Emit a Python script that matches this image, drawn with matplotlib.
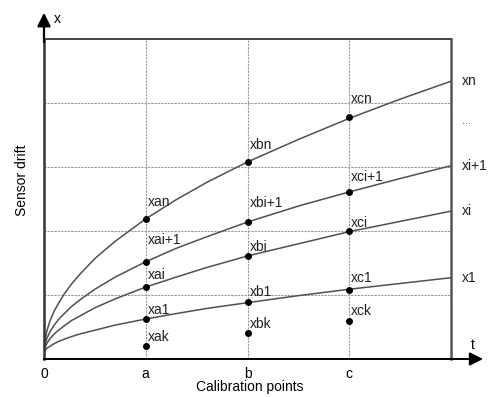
import matplotlib
matplotlib.use("Agg")
import matplotlib.pyplot as plt

# ---- data ----
t_curve = [0, 0.01, 0.03, 0.06, 0.1, 0.15, 0.2, 0.27, 0.35, 0.5, 0.7, 1, 1.3, 1.6, 2, 2.5, 3, 3.5, 4]
curve_x1 = [0.1, 0.14, 0.17, 0.20, 0.24, 0.28, 0.31, 0.35, 0.39, 0.45, 0.53, 0.625, 0.71, 0.79, 0.88, 0.99, 1.09, 1.18, 1.27]
curve_xi = [0.1, 0.18, 0.25, 0.32, 0.39, 0.46, 0.52, 0.60, 0.67, 0.80, 0.94, 1.125, 1.28, 1.43, 1.61, 1.80, 1.99, 2.15, 2.31]
curve_xi1 = [0.1, 0.23, 0.33, 0.43, 0.53, 0.63, 0.71, 0.82, 0.92, 1.09, 1.28, 1.52, 1.73, 1.91, 2.14, 2.39, 2.61, 2.82, 3.02]
curve_xn = [0.1, 0.30, 0.45, 0.60, 0.75, 0.89, 1.02, 1.17, 1.32, 1.57, 1.84, 2.19, 2.49, 2.76, 3.08, 3.43, 3.76, 4.06, 4.34]

t_cal = [1, 2, 3]
cal_names = ["a", "b", "c"]
pts_xk = [0.2, 0.41, 0.59]
pts_x1 = [0.625, 0.89, 1.08]
pts_xi = [1.125, 1.61, 2.0]
pts_xi1 = [1.52, 2.14, 2.61]
pts_xn = [2.19, 3.08, 3.78]
pt_suffix = ["k", "1", "i", "i+1", "n"]
curve_names = ["x1", "xi", "xi+1", "xn"]

xtick_pos = [0, 1, 2, 3]
xtick_labels = ["0", "a", "b", "c"]
hgrid = [1, 2, 3, 4]

plt.rcParams['font.family'] = ['Liberation Sans', 'DejaVu Sans']
FS = 10

fig = plt.figure(figsize=(4.88, 3.97), dpi=100)
ax = fig.add_axes([44/488, 1-359/397, 407/488, 320/397])
ax.set_xlim(0, 4)
ax.set_ylim(0, 5)

# grid
for g in t_cal:
    ax.axvline(g, color='#999999', lw=0.8, ls=(0, (2, 1)), zorder=1)
for g in hgrid:
    ax.axhline(g, color='#999999', lw=0.8, ls=(0, (2, 1)), zorder=1)

# curves
curves = [curve_x1, curve_xi, curve_xi1, curve_xn]
for c in curves:
    ax.plot(t_curve, c, color='#505050', lw=1.1, zorder=2, solid_joinstyle='round')

# points
pts = [pts_xk, pts_x1, pts_xi, pts_xi1, pts_xn]
offsets = [[9, 9, 12, 22, 17], [9, 10, 9, 19, 17], [10, 12, 8, 15, 18]]
for si, s in enumerate(pts):
    ax.scatter(t_cal, s, s=16, color='black', zorder=4, clip_on=False)
    for ci, (tc, v) in enumerate(zip(t_cal, s)):
        ax.annotate("x" + cal_names[ci] + pt_suffix[si], (tc, v),
                    xytext=(2, offsets[ci][si]), textcoords='offset pixels',
                    ha='left', va='center', fontsize=FS, color='#222222', zorder=5)

# right-side curve labels
for name, c in zip(curve_names, curves):
    ax.text(4.105, c[-1], name, ha='left', va='center', fontsize=FS, color='#222222', clip_on=False)
ax.text(4.105, 3.72, "...", ha='left', va='center', fontsize=8, color='#444444', clip_on=False)

# spines
ax.spines['left'].set_linewidth(1.8)
ax.spines['left'].set_color('#333333')
ax.spines['bottom'].set_linewidth(1.4)
ax.spines['bottom'].set_color('black')
ax.spines['top'].set_linewidth(1.4)
ax.spines['top'].set_color('#444444')
ax.spines['right'].set_linewidth(1.8)
ax.spines['right'].set_color('#555555')

# ticks
ax.set_xticks(xtick_pos)
ax.set_xticklabels(xtick_labels, fontsize=FS)
ax.set_yticks([])
ax.tick_params(axis='x', length=0, pad=6)

# arrows
ax.annotate("", xy=(0, 5.41), xytext=(0, 4.95), xycoords='data',
            arrowprops=dict(arrowstyle='-|>', mutation_scale=20, color='black', lw=1.6,
                            shrinkA=0, shrinkB=0), annotation_clip=False)
ax.annotate("", xy=(4.315, 0), xytext=(3.98, 0), xycoords='data',
            arrowprops=dict(arrowstyle='-|>', mutation_scale=20, color='black', lw=1.4,
                            shrinkA=0, shrinkB=0), annotation_clip=False)
ax.text(0.128, 5.31, "x", ha='center', va='center', fontsize=FS, clip_on=False)
ax.text(4.21, 0.22, "t", ha='center', va='center', fontsize=FS, clip_on=False)

fig.text(250/488, 1-387/397, "Calibration points", ha='center', va='center', fontsize=FS)
fig.text(22/488, 1-180/397, "Sensor drift", ha='center', va='center', rotation=90, fontsize=FS)

fig.savefig("out.png", dpi=100)
